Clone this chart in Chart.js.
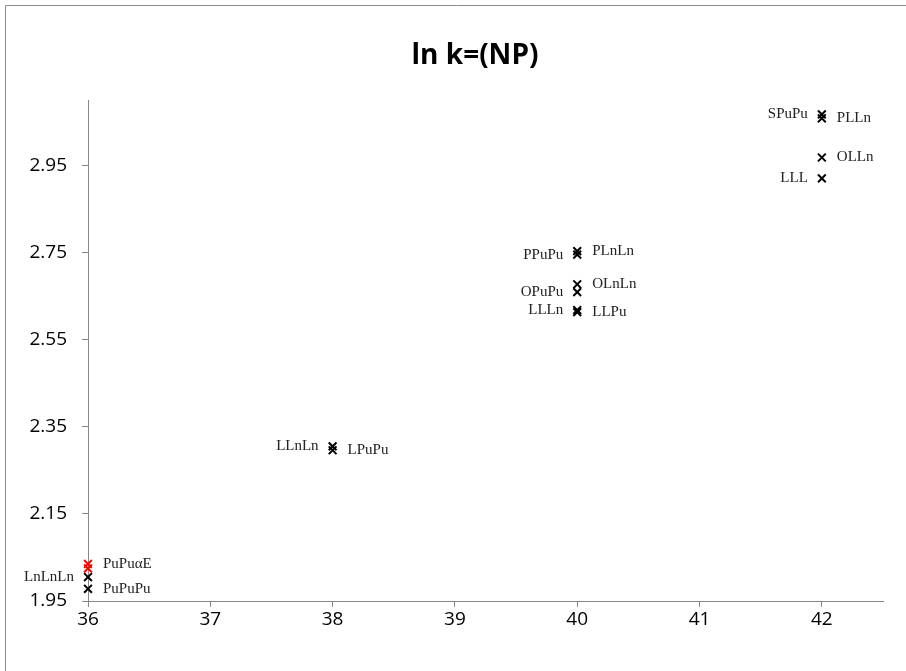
<!DOCTYPE html>
<html>
<head>
<meta charset="utf-8">
<script src="https://cdn.jsdelivr.net/npm/chart.js@4/dist/chart.umd.min.js"></script>
<style>
  html, body { margin: 0; padding: 0; background: #fff; }
  #wrap { position: relative; width: 906px; height: 671px; }
</style>
</head>
<body>
<div id="wrap"><canvas id="chart" width="906" height="671"></canvas></div>
<script>
const titleText = 'ln k=(NP)';

// black points
const blackNames = ['LnLnLn', 'PuPuPu', 'LLnLn', 'LPuPu', 'PLnLn', 'PPuPu', 'OLnLn', 'OPuPu', 'LLLn', 'LLPu', 'SPuPu', 'PLLn', 'OLLn', 'LLL'];
const blackX = [36, 36, 38, 38, 40, 40, 40, 40, 40, 40, 42, 42, 42, 42];
const blackY = [2.005, 1.978, 2.305, 2.296, 2.753, 2.745, 2.677, 2.659, 2.618, 2.613, 3.067, 3.058, 2.968, 2.920];

// red points
const redNames = ['PuPuαE', ''];
const redX = [36, 36];
const redY = [2.035, 2.025];

const xTicks = [36, 37, 38, 39, 40, 41, 42];
const yTicks = [1.95, 2.15, 2.35, 2.55, 2.75, 2.95];

// which side of the point each label sits on
const leftLabels = ['LnLnLn', 'LLnLn', 'PPuPu', 'OPuPu', 'LLLn', 'SPuPu', 'LLL'];

function toPoints(xs, ys) {
  return xs.map((x, i) => ({ x: x, y: ys[i] }));
}

const axisGray = '#868686';
const tickFont = { family: '"Open Sans", "DejaVu Sans", sans-serif', size: 19 };

const framePlugin = {
  id: 'frame',
  beforeDraw(chart) {
    const ctx = chart.ctx;
    ctx.save();
    ctx.fillStyle = '#fff';
    ctx.fillRect(0, 0, chart.width, chart.height);
    ctx.strokeStyle = '#8c8c8c';
    ctx.lineWidth = 1;
    ctx.beginPath();
    ctx.moveTo(5.5, 1000);
    ctx.lineTo(5.5, 5.5);
    ctx.lineTo(1000, 5.5);
    ctx.stroke();
    ctx.fillStyle = '#000';
    ctx.font = 'bold 28px "Open Sans", "DejaVu Sans", sans-serif';
    ctx.textAlign = 'center';
    ctx.textBaseline = 'middle';
    ctx.fillText(titleText, 475, 56);
    ctx.restore();
  }
};

const pointLabels = {
  id: 'pointLabels',
  afterDatasetsDraw(chart) {
    const ctx = chart.ctx;
    ctx.save();
    ctx.font = '15px "Liberation Serif", "Times New Roman", serif';
    ctx.fillStyle = '#222';
    ctx.textBaseline = 'middle';
    chart.data.datasets.forEach((ds, di) => {
      const meta = chart.getDatasetMeta(di);
      meta.data.forEach((pt, i) => {
        const name = ds.names[i];
        if (!name) return;
        if (leftLabels.includes(name)) {
          ctx.textAlign = 'right';
          ctx.fillText(name, pt.x - 14, pt.y);
        } else {
          ctx.textAlign = 'left';
          ctx.fillText(name, pt.x + 15, pt.y);
        }
      });
    });
    ctx.restore();
  }
};

new Chart(document.getElementById('chart'), {
  type: 'scatter',
  data: {
    datasets: [
      {
        label: 'black',
        names: blackNames,
        data: toPoints(blackX, blackY),
        clip: false,
        pointStyle: 'crossRot',
        pointRadius: 5.5,
        pointBorderWidth: 2,
        borderColor: '#000',
        backgroundColor: '#000'
      },
      {
        label: 'red',
        names: redNames,
        data: toPoints(redX, redY),
        clip: false,
        pointStyle: 'crossRot',
        pointRadius: 5.5,
        pointBorderWidth: 2,
        borderColor: '#ff0000',
        backgroundColor: '#ff0000'
      }
    ]
  },
  options: {
    responsive: false,
    animation: false,
    events: [],
    layout: { padding: { top: 100, right: 23, bottom: 0, left: 0 } },
    plugins: {
      legend: { display: false },
      title: { display: false },
      tooltip: { enabled: false }
    },
    scales: {
      x: {
        type: 'linear',
        min: 36,
        max: 42.5,
        afterBuildTicks(scale) { scale.ticks = xTicks.map((v) => ({ value: v })); },
        afterFit(scale) { scale.height = 70; },
        border: { color: axisGray, width: 1 },
        grid: { drawOnChartArea: false, drawTicks: true, tickLength: 6, color: axisGray },
        ticks: {
          color: '#000',
          padding: 1,
          font: tickFont,
          callback: (v) => String(v)
        }
      },
      y: {
        type: 'linear',
        min: 1.95,
        max: 3.1,
        afterBuildTicks(scale) { scale.ticks = yTicks.map((v) => ({ value: v })); },
        afterFit(scale) { scale.width = 88; },
        border: { color: axisGray, width: 1 },
        grid: { drawOnChartArea: false, drawTicks: true, tickLength: 6, color: axisGray },
        ticks: {
          color: '#000',
          padding: 15,
          font: tickFont,
          callback: (v) => Number(v).toFixed(2)
        }
      }
    }
  },
  plugins: [framePlugin, pointLabels]
});
</script>
</body>
</html>
